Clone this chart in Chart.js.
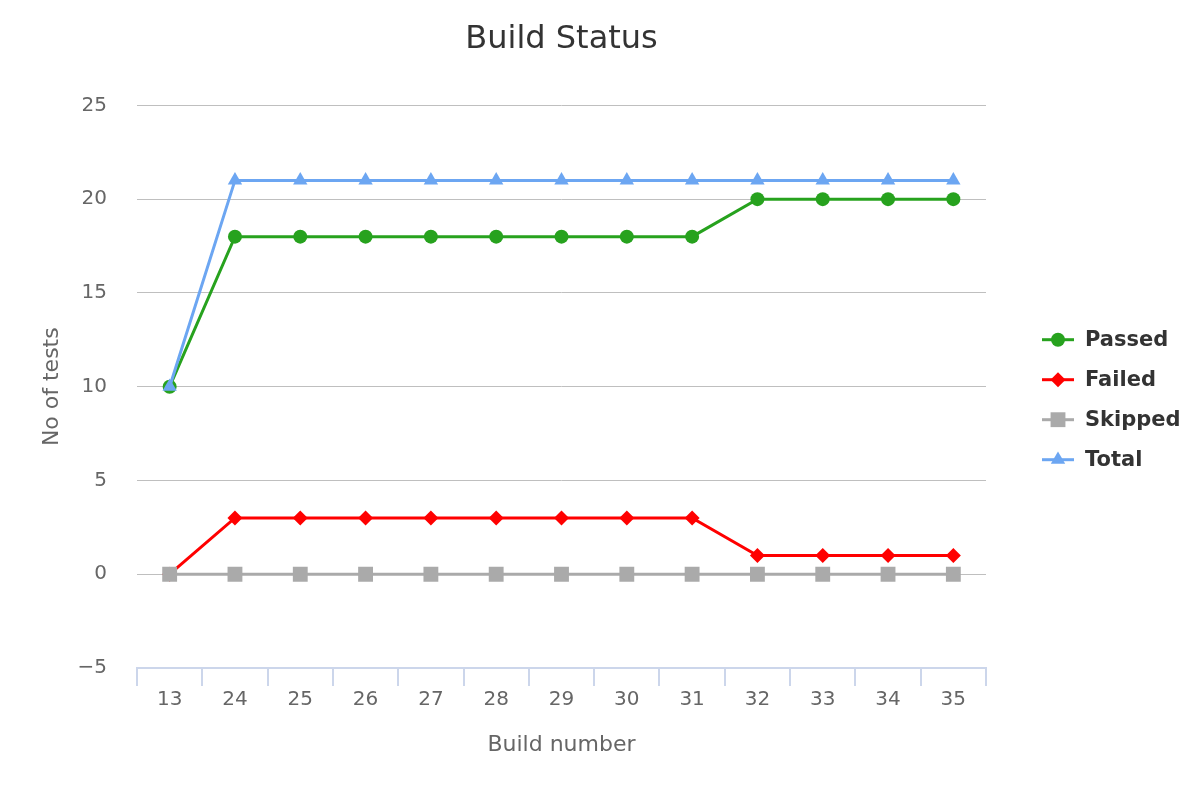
<!DOCTYPE html>
<html>
<head>
<meta charset="utf-8">
<script src="https://cdn.jsdelivr.net/npm/chart.js@4"></script>
<style>
html,body{margin:0;padding:0;background:#fff;}
#wrap{width:1200px;height:800px;}
</style>
</head>
<body>
<div id="wrap"><canvas id="c" width="1200" height="800"></canvas></div>
<script>
const categories = ['13','24','25','26','27','28','29','30','31','32','33','34','35'];
const passed  = [10,18,18,18,18,18,18,18,18,20,20,20,20];
const failed  = [0,3,3,3,3,3,3,3,3,1,1,1,1];
const skipped = [0,0,0,0,0,0,0,0,0,0,0,0,0];
const total   = [10,21,21,21,21,21,21,21,21,21,21,21,21];
const yTicks  = [-5,0,5,10,15,20,25];

const FONT = "'DejaVu Sans', 'Lucida Grande', sans-serif";
Chart.defaults.font.family = FONT;

const legendPlugin = {
  id: 'sideLegend',
  afterDraw(chart) {
    const ctx = chart.ctx;
    const area = chart.chartArea;
    const x0 = area.right + 56;
    const n = chart.data.datasets.length;
    const gap = 40;
    const yc = (area.top + area.bottom) / 2 + 13;
    const y0 = yc - gap * (n - 1) / 2;
    chart.data.datasets.forEach((ds, i) => {
      const y = y0 + i * gap;
      ctx.save();
      ctx.strokeStyle = ds.borderColor;
      ctx.lineWidth = 3;
      ctx.beginPath();
      ctx.moveTo(x0, y);
      ctx.lineTo(x0 + 32, y);
      ctx.stroke();
      ctx.fillStyle = ds.pointBackgroundColor;
      Chart.helpers.drawPoint(ctx, {pointStyle: ds.pointStyle, radius: ds.pointRadius, rotation: 0, borderWidth: 0}, x0 + 16, y);
      ctx.fillStyle = '#333333';
      ctx.font = 'bold 21px ' + FONT;
      ctx.textBaseline = 'middle';
      ctx.textAlign = 'left';
      ctx.fillText(ds.label, x0 + 43, y + 1);
      ctx.restore();
    });
  }
};

new Chart(document.getElementById('c'), {
  type: 'line',
  data: {
    labels: categories,
    datasets: [
      {label: 'Passed', data: passed, borderColor: '#27a21e', backgroundColor: '#27a21e', pointBackgroundColor: '#27a21e', pointBorderWidth: 0, pointStyle: 'circle', pointRadius: 7, pointHoverRadius: 7, borderWidth: 3, order: 4},
      {label: 'Failed', data: failed, borderColor: '#ff0000', backgroundColor: '#ff0000', pointBackgroundColor: '#ff0000', pointBorderWidth: 0, pointStyle: 'rectRot', pointRadius: 7.5, pointHoverRadius: 7.5, borderWidth: 3, order: 3},
      {label: 'Skipped', data: skipped, borderColor: '#aaaaaa', backgroundColor: '#aaaaaa', pointBackgroundColor: '#aaaaaa', pointBorderWidth: 0, pointStyle: 'rect', pointRadius: 10.5, pointHoverRadius: 10.5, borderWidth: 3, order: 2},
      {label: 'Total', data: total, borderColor: '#6ca6f2', backgroundColor: '#6ca6f2', pointBackgroundColor: '#6ca6f2', pointBorderWidth: 0, pointStyle: 'triangle', pointRadius: 8.3, pointHoverRadius: 8.3, borderWidth: 3, order: 1}
    ]
  },
  options: {
    responsive: false,
    animation: false,
    layout: {padding: {left: 0, right: 214, top: 0, bottom: 0}},
    elements: {line: {tension: 0}},
    plugins: {
      legend: {display: false},
      tooltip: {enabled: false},
      title: {
        display: true,
        text: 'Build Status',
        color: '#333333',
        fullSize: false,
        font: {size: 32, weight: 'normal', family: FONT},
        padding: {top: 20, bottom: 47}
      }
    },
    scales: {
      x: {
        type: 'category',
        offset: true,
        grid: {offset: true, drawOnChartArea: false, drawTicks: true, tickLength: 18, color: '#ccd6eb', lineWidth: 2},
        border: {display: true, color: '#ccd6eb', width: 2},
        ticks: {color: '#666666', font: {size: 20}, padding: 2, maxRotation: 0, autoSkip: false},
        title: {display: true, text: 'Build number', color: '#666666', font: {size: 22}, padding: {top: 0, bottom: 42}},
        afterFit(scale) { scale.height = 132; }
      },
      y: {
        min: -5, max: 25,
        afterBuildTicks(scale) { scale.ticks = yTicks.map(v => ({value: v})); },
        grid: {drawTicks: false, color: ctx => (ctx.tick && ctx.tick.value === -5) ? 'rgba(0,0,0,0)' : '#bfbfbf', lineWidth: 1},
        border: {display: false},
        ticks: {color: '#666666', font: {size: 20}, padding: 30, callback: v => String(v).replace('-', '\u2212')},
        title: {display: true, text: 'No of tests', color: '#666666', font: {size: 22}, padding: {top: 39, bottom: 0}},
        afterFit(scale) { scale.width = 137; }
      }
    }
  },
  plugins: [legendPlugin]
});
</script>
</body>
</html>
